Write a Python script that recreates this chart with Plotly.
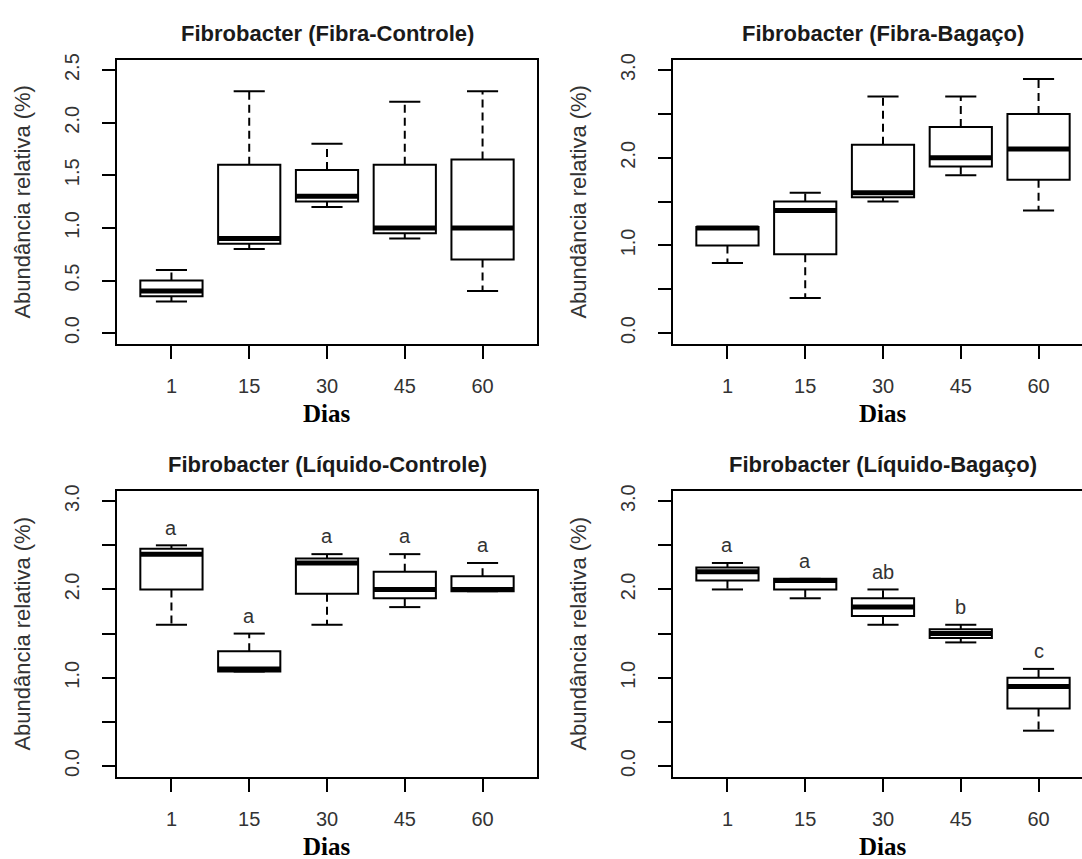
import plotly.graph_objects as go

# ---- data ----------------------------------------------------------------
days = ["1", "15", "30", "45", "60"]
pos = [1, 2, 3, 4, 5]

# Fibra-Controle
fc_lower = [0.30, 0.80, 1.20, 0.90, 0.40]
fc_q1 = [0.35, 0.85, 1.25, 0.95, 0.70]
fc_med = [0.40, 0.90, 1.30, 1.00, 1.00]
fc_q3 = [0.50, 1.60, 1.55, 1.60, 1.65]
fc_upper = [0.60, 2.30, 1.80, 2.20, 2.30]

# Fibra-Bagaço
fb_lower = [0.80, 0.40, 1.50, 1.80, 1.40]
fb_q1 = [1.00, 0.90, 1.55, 1.90, 1.75]
fb_med = [1.20, 1.40, 1.60, 2.00, 2.10]
fb_q3 = [1.21, 1.50, 2.15, 2.35, 2.50]
fb_upper = [1.21, 1.60, 2.70, 2.70, 2.90]

# Líquido-Controle
lc_lower = [1.60, 1.07, 1.60, 1.80, 1.98]
lc_q1 = [2.00, 1.07, 1.95, 1.90, 1.98]
lc_med = [2.40, 1.10, 2.30, 2.00, 2.00]
lc_q3 = [2.46, 1.30, 2.35, 2.20, 2.15]
lc_upper = [2.50, 1.50, 2.40, 2.40, 2.30]
lc_letters = ["a", "a", "a", "a", "a"]

# Líquido-Bagaço
lb_lower = [2.00, 1.90, 1.60, 1.40, 0.40]
lb_q1 = [2.10, 2.00, 1.70, 1.45, 0.65]
lb_med = [2.20, 2.10, 1.80, 1.50, 0.90]
lb_q3 = [2.25, 2.12, 1.90, 1.55, 1.00]
lb_upper = [2.30, 2.12, 2.00, 1.60, 1.10]
lb_letters = ["a", "a", "ab", "b", "c"]

titles = [
    "Fibrobacter (Fibra-Controle)",
    "Fibrobacter (Fibra-Bagaço)",
    "Fibrobacter (Líquido-Controle)",
    "Fibrobacter (Líquido-Bagaço)",
]
y_title = "Abundância relativa (%)"
x_title = "Dias"

# ---- geometry (pixels) ------------------------------------------------------
W, H = 1082, 859
BOX_W = 0.8
STAPLE_W = 0.4
PX_PER_UNIT = 420 / 5.4


def fx(px):
    return px / W


def fy(py):
    return 1 - py / H


SANS = "Liberation Sans, Arial, sans-serif"
SERIF = "Liberation Serif, Times New Roman, serif"
TXT = "#333333"

panels = [
    dict(s="", lo=fc_lower, q1=fc_q1, md=fc_med, q3=fc_q3, up=fc_upper, letters=None,
         left=117, top=54, bottom=340, yrange=[-0.1, 2.6], ymax=2.5, ylab_all=True, right_cut=False),
    dict(s="2", lo=fb_lower, q1=fb_q1, md=fb_med, q3=fb_q3, up=fb_upper, letters=None,
         left=673, top=54, bottom=340, yrange=[-0.12, 3.12], ymax=3.0, ylab_all=False, right_cut=True),
    dict(s="3", lo=lc_lower, q1=lc_q1, md=lc_med, q3=lc_q3, up=lc_upper, letters=lc_letters,
         left=117, top=488, bottom=776, yrange=[-0.12, 3.12], ymax=3.0, ylab_all=False, right_cut=False),
    dict(s="4", lo=lb_lower, q1=lb_q1, md=lb_med, q3=lb_q3, up=lb_upper, letters=lb_letters,
         left=673, top=488, bottom=776, yrange=[-0.12, 3.12], ymax=3.0, ylab_all=False, right_cut=True),
]

fig = go.Figure()
layout = dict(
    width=W, height=H,
    margin=dict(l=0, r=0, t=0, b=0),
    paper_bgcolor="white", plot_bgcolor="white",
    showlegend=False,
    annotations=[],
)


def seg_xy(xs0, xs1, ys0, ys1):
    xs, ys = [], []
    for a, b, c, d in zip(xs0, xs1, ys0, ys1):
        xs += [a, b, None]
        ys += [c, d, None]
    return xs, ys


for i, p in enumerate(panels):
    s = p["s"]
    xa, ya = "x" + s, "y" + s

    # boxes (whiskers drawn separately in R style)
    fig.add_trace(go.Box(
        x=pos, q1=p["q1"], median=p["md"], q3=p["q3"],
        lowerfence=p["q1"], upperfence=p["q3"],
        width=BOX_W, whiskerwidth=0, boxpoints=False,
        fillcolor="white", line=dict(color="black", width=2),
        xaxis=xa, yaxis=ya, hoverinfo="skip",
    ))

    # dashed whiskers
    wx, wy = seg_xy(pos + pos, pos + pos, p["q3"] + p["q1"], p["up"] + p["lo"])
    fig.add_trace(go.Scatter(x=wx, y=wy, mode="lines",
                             line=dict(color="black", width=2, dash="8px,5px"),
                             xaxis=xa, yaxis=ya, hoverinfo="skip"))

    # staples
    sx, sy = seg_xy([q - STAPLE_W / 2 for q in pos] * 2, [q + STAPLE_W / 2 for q in pos] * 2,
                    p["up"] + p["lo"], p["up"] + p["lo"])
    fig.add_trace(go.Scatter(x=sx, y=sy, mode="lines",
                             line=dict(color="black", width=2),
                             xaxis=xa, yaxis=ya, hoverinfo="skip"))

    # thick medians
    mx, my = seg_xy([q - BOX_W / 2 for q in pos], [q + BOX_W / 2 for q in pos], p["md"], p["md"])
    fig.add_trace(go.Scatter(x=mx, y=my, mode="lines",
                             line=dict(color="black", width=5),
                             xaxis=xa, yaxis=ya, hoverinfo="skip"))

    right_px = min(p["left"] + 420, W)
    xr = [0.3, 0.3 + (right_px - p["left"]) / PX_PER_UNIT]

    nt = int(round(p["ymax"] / 0.5)) + 1
    yt = [k * 0.5 for k in range(nt)]
    ytext = [f"{v:.1f}" if (p["ylab_all"] or abs(v - round(v)) < 1e-9) else "" for v in yt]

    layout["xaxis" + s] = dict(
        domain=[fx(p["left"]), fx(right_px)], range=xr, anchor=ya,
        tickmode="array", tickvals=pos, ticktext=days,
        ticks="outside", ticklen=13, tickwidth=2, tickcolor="black",
        showline=True, linewidth=2, linecolor="black", mirror=True,
        showgrid=False, zeroline=False,
        tickfont=dict(family=SANS, size=20, color=TXT), ticklabelstandoff=10,
    )
    layout["yaxis" + s] = dict(
        domain=[fy(p["bottom"]), fy(p["top"])], range=p["yrange"], anchor=xa,
        tickmode="array", tickvals=yt, ticktext=ytext, tickangle=-90,
        ticks="outside", ticklen=13, tickwidth=2, tickcolor="black",
        showline=True, linewidth=2, linecolor="black", mirror=not p["right_cut"],
        showgrid=False, zeroline=False,
        tickfont=dict(family=SANS, size=20, color=TXT), ticklabelstandoff=15,
    )

    cx = p["left"] + 210
    ann = layout["annotations"]
    ann.append(dict(text=titles[i], x=fx(cx), y=fy(p["top"] - 26), xref="paper", yref="paper",
                    showarrow=False, xanchor="center", yanchor="middle",
                    font=dict(family=SANS, size=22, color="#1a1a1a", weight="bold")))
    ann.append(dict(text=y_title, x=fx(p["left"] - 94), y=fy((p["top"] + p["bottom"]) / 2),
                    xref="paper", yref="paper", textangle=-90, showarrow=False,
                    xanchor="center", yanchor="middle",
                    font=dict(family=SANS, size=22, color=TXT)))
    ann.append(dict(text=f"<b>{x_title}</b>", x=fx(cx), y=fy(p["bottom"] + 70),
                    xref="paper", yref="paper", showarrow=False,
                    xanchor="center", yanchor="middle",
                    font=dict(family=SERIF, size=25, color="black")))
    if p["letters"]:
        for q, up, lt in zip(pos, p["up"], p["letters"]):
            ann.append(dict(text=lt, x=q, y=up + 0.2, xref=xa, yref=ya, showarrow=False,
                            xanchor="center", yanchor="middle",
                            font=dict(family=SANS, size=20, color=TXT)))

fig.update_layout(**layout)
fig.write_html("out.html")
